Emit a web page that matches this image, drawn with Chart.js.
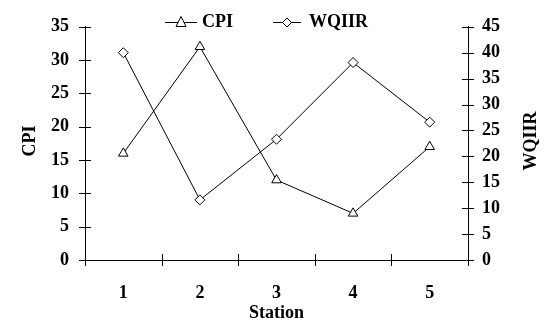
<!DOCTYPE html>
<html>
<head>
<meta charset="utf-8">
<script src="https://cdn.jsdelivr.net/npm/chart.js@4/dist/chart.umd.min.js"></script>
<style>
  body { margin: 0; background: #fff; }
  canvas { display: block; }
</style>
</head>
<body>
<canvas id="myChart" width="544" height="326"></canvas>
<script>
var stations = ['1', '2', '3', '4', '5'];
var cpiValues = [16, 32, 12, 7, 17];
var wqiirValues = [40, 11.6, 23.3, 38.1, 26.6];

var FONT = "'Liberation Serif', 'Times New Roman', serif";

// tick marks crossing the axes, axis titles and the legend
var axisDeco = {
  id: 'axisDeco',
  afterDraw: function (chart) {
    var ctx = chart.ctx;
    var area = chart.chartArea;
    var x = chart.scales.x, yL = chart.scales.y, yR = chart.scales.y2;
    ctx.save();
    ctx.strokeStyle = '#000';
    ctx.lineWidth = 1;
    ctx.beginPath();
    yL.ticks.forEach(function (t) {
      var py = Math.round(yL.getPixelForValue(t.value)) + 0.5;
      ctx.moveTo(area.left - 6, py); ctx.lineTo(area.left + 6, py);
    });
    yR.ticks.forEach(function (t) {
      var py = Math.round(yR.getPixelForValue(t.value)) + 0.5;
      ctx.moveTo(area.right - 6, py); ctx.lineTo(area.right + 6, py);
    });
    for (var i = 0; i <= stations.length; i++) {
      var px = Math.round(x.getPixelForValue(i - 0.5)) + 0.5;
      ctx.moveTo(px, area.bottom - 6); ctx.lineTo(px, area.bottom + 6);
    }
    ctx.stroke();

    ctx.fillStyle = '#000';
    ctx.font = 'bold 18px ' + FONT;
    ctx.textAlign = 'center';
    ctx.textBaseline = 'middle';
    ctx.save();
    ctx.translate(30, 141);
    ctx.rotate(-Math.PI / 2);
    ctx.fillText('CPI', 0, 0);
    ctx.restore();
    ctx.save();
    ctx.translate(531, 141);
    ctx.rotate(-Math.PI / 2);
    ctx.fillText('WQIIR', 0, 0);
    ctx.restore();
    ctx.fillText('Station', x.getPixelForValue(2), 313);

    // legend
    var ly = 22.5;
    ctx.beginPath();
    ctx.moveTo(165, ly); ctx.lineTo(197, ly);
    ctx.moveTo(273, ly); ctx.lineTo(301, ly);
    ctx.stroke();
    ctx.fillStyle = '#fff';
    ctx.beginPath();
    ctx.moveTo(181, ly - 6); ctx.lineTo(186, ly + 4); ctx.lineTo(176, ly + 4); ctx.closePath();
    ctx.fill(); ctx.stroke();
    ctx.beginPath();
    ctx.moveTo(287, ly - 4.5); ctx.lineTo(291.5, ly); ctx.lineTo(287, ly + 4.5); ctx.lineTo(282.5, ly); ctx.closePath();
    ctx.fill(); ctx.stroke();
    ctx.fillStyle = '#000';
    ctx.textAlign = 'left';
    ctx.fillText('CPI', 202, ly);
    ctx.fillText('WQIIR', 309, ly);
    ctx.restore();
  }
};

var canvas = document.getElementById('myChart');
new Chart(canvas, {
  type: 'line',
  data: {
    labels: stations,
    datasets: [{
      label: 'CPI',
      data: cpiValues,
      yAxisID: 'y',
      borderColor: '#000',
      borderWidth: 1,
      backgroundColor: '#fff',
      pointStyle: 'triangle',
      pointRadius: 5.5,
      pointBorderWidth: 1,
      pointBorderColor: '#000',
      pointBackgroundColor: '#fff',
      tension: 0
    }, {
      label: 'WQIIR',
      data: wqiirValues,
      yAxisID: 'y2',
      borderColor: '#000',
      borderWidth: 1,
      backgroundColor: '#fff',
      pointStyle: 'rectRot',
      pointRadius: 5,
      pointBorderWidth: 1,
      pointBorderColor: '#000',
      pointBackgroundColor: '#fff',
      tension: 0
    }]
  },
  options: {
    responsive: false,
    animation: false,
    layout: { padding: { top: 23 } },
    plugins: {
      legend: { display: false },
      tooltip: { enabled: false }
    },
    scales: {
      x: {
        offset: true,
        grid: { display: false, drawTicks: false },
        border: { display: true, color: '#000', width: 1 },
        ticks: { color: '#000', padding: 23, font: { family: FONT, size: 18, weight: 'bold' } },
        afterFit: function (s) { s.height = 66; }
      },
      y: {
        position: 'left',
        min: 0, max: 35,
        grid: { display: false, drawTicks: false },
        border: { display: true, color: '#000', width: 1 },
        ticks: { stepSize: 5, color: '#000', padding: 16, font: { family: FONT, size: 18, weight: 'bold' } },
        afterFit: function (s) { s.width = 85; }
      },
      y2: {
        position: 'right',
        min: 0, max: 45,
        grid: { display: false, drawTicks: false },
        border: { display: true, color: '#000', width: 1 },
        ticks: { stepSize: 5, color: '#000', padding: 14, font: { family: FONT, size: 18, weight: 'bold' } },
        afterFit: function (s) { s.width = 76; }
      }
    }
  },
  plugins: [axisDeco]
});
</script>
</body>
</html>
